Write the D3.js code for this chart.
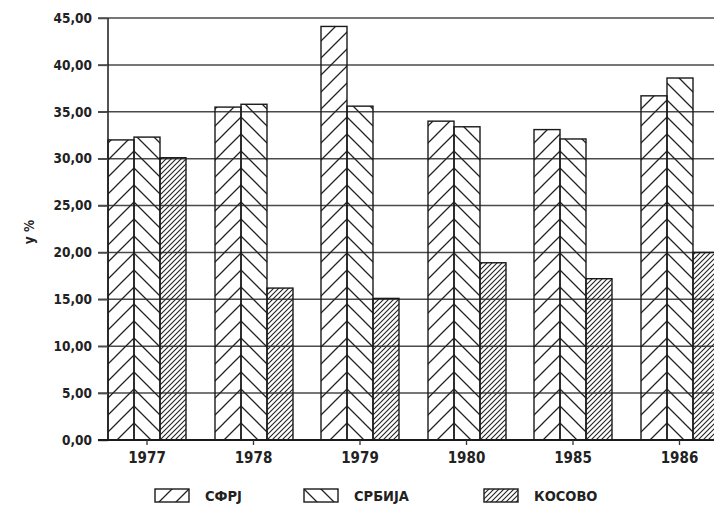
<!DOCTYPE html>
<html>
<head>
<meta charset="utf-8">
<script src="https://cdn.jsdelivr.net/npm/d3@7"></script>
<style>
  body { margin: 0; background: #fff; }
  svg { display: block; }
</style>
</head>
<body>
<div id="chart"></div>
<script>
// chart data
const years = ["1977", "1978", "1979", "1980", "1985", "1986"];
const seriesNames = ["СФРЈ", "СРБИЈА", "КОСОВО"];
const sfrj   = [32.0, 35.5, 44.1, 34.0, 33.1, 36.7];
const srbija = [32.3, 35.8, 35.6, 33.4, 32.1, 38.6];
const kosovo = [30.1, 16.2, 15.1, 18.9, 17.2, 20.0];
const yTicks = [0, 5, 10, 15, 20, 25, 30, 35, 40, 45];

const values = [sfrj, srbija, kosovo];
const kinds = ["fwd", "back", "dense"];

const W = 714, H = 517;
const plotLeft = 108, plotBase = 440, plotTop = 18;
const font = "'DejaVu Sans Condensed', 'DejaVu Sans', sans-serif";

const svg = d3.select("#chart").append("svg")
    .attr("width", W)
    .attr("height", H);
const defs = svg.append("defs");

// hatch patterns, origin given so the chevrons meet on the bar edge
function makePattern(id, kind, ox, oy) {
    const s = kind === "dense" ? 5 : 17;
    const p = defs.append("pattern")
        .attr("id", id)
        .attr("patternUnits", "userSpaceOnUse")
        .attr("x", Math.round(ox)).attr("y", oy)
        .attr("width", s).attr("height", s);
    let d;
    if (kind === "back") {
        d = `M0,0L${s},${s}M-1,${s - 1}L1,${s + 1}M${s - 1},-1L${s + 1},1`;
    } else {
        d = `M0,${s}L${s},0M-1,1L1,-1M${s - 1},${s + 1}L${s + 1},${s - 1}`;
    }
    p.append("path")
        .attr("d", d)
        .attr("stroke", "#222")
        .attr("stroke-width", kind === "dense" ? 1.1 : 1.3)
        .attr("fill", "none");
}

const x = d3.scaleBand()
    .domain(years)
    .range([plotLeft, plotLeft + 5 * 106.5 + 78])
    .paddingInner(28.5 / 106.5)
    .paddingOuter(0);

const xs = d3.scaleBand()
    .domain(seriesNames)
    .range([0, x.bandwidth()]);

const y = d3.scaleLinear()
    .domain([0, 45])
    .range([plotBase, plotTop]);

// grid lines
svg.append("g")
    .selectAll("line")
    .data(yTicks.slice(1))
    .join("line")
    .attr("x1", plotLeft - 10)
    .attr("x2", W)
    .attr("y1", d => y(d))
    .attr("y2", d => y(d))
    .attr("stroke", "#4a4a4a")
    .attr("stroke-width", 1.5);

// bars
const bars = [];
years.forEach((yr, i) => {
    seriesNames.forEach((s, j) => {
        bars.push({ yr, s, j, v: values[j][i] });
    });
});

bars.forEach((b, k) => {
    const x0 = Math.round(x(b.yr) + xs(b.s));
    // apex of chevron sits on the СФРЈ / СРБИЈА edge
    const edge = Math.round(x(b.yr) + xs.bandwidth());
    makePattern("pat" + k, kinds[b.j], b.j === 2 ? x0 : edge, plotBase);
    b.x0 = x0;
    b.pid = "pat" + k;
});

svg.append("g")
    .selectAll("rect")
    .data(bars)
    .join("rect")
    .attr("x", d => d.x0)
    .attr("y", d => y(d.v))
    .attr("width", xs.bandwidth())
    .attr("height", d => plotBase - y(d.v))
    .attr("fill", d => `url(#${d.pid})`)
    .attr("stroke", "#1a1a1a")
    .attr("stroke-width", 1.4);

// y axis
const yAxis = svg.append("g")
    .attr("transform", `translate(${plotLeft},0)`)
    .call(d3.axisLeft(y)
        .tickValues(yTicks)
        .tickSize(10)
        .tickPadding(6)
        .tickFormat(d => d3.format(".2f")(d).replace(".", ",")));
yAxis.select(".domain").attr("stroke", "#1a1a1a").attr("stroke-width", 1.5)
    .attr("d", `M0,${plotTop}V${plotBase}`);
yAxis.selectAll(".tick line").attr("stroke", "#4a4a4a").attr("stroke-width", 1.5);
yAxis.selectAll("text")
    .attr("font-family", font)
    .attr("font-weight", "bold")
    .attr("font-size", 13.5)
    .attr("fill", "#222");

// x axis
const xAxis = svg.append("g")
    .attr("transform", `translate(0,${plotBase})`)
    .call(d3.axisBottom(x).tickSize(5).tickPadding(7));
xAxis.select(".domain").attr("stroke", "#1a1a1a").attr("stroke-width", 1.8)
    .attr("d", `M${plotLeft - 10},0H${W}`);
xAxis.selectAll(".tick line").attr("stroke", "#333").attr("stroke-width", 1.3);
xAxis.selectAll("text")
    .attr("font-family", font)
    .attr("font-weight", "bold")
    .attr("font-size", 15)
    .attr("fill", "#222");

// y label
svg.append("text")
    .attr("transform", "translate(34,232) rotate(-90)")
    .attr("text-anchor", "middle")
    .attr("font-family", font)
    .attr("font-weight", "bold")
    .attr("font-size", 13.5)
    .attr("fill", "#222")
    .text("у %");

// legend
const legendX = [155, 304, 484];
const legend = svg.append("g");
seriesNames.forEach((s, j) => {
    const lx = legendX[j];
    makePattern("leg" + j, kinds[j], lx, 489);
    legend.append("rect")
        .attr("x", lx).attr("y", 489)
        .attr("width", 34).attr("height", 13)
        .attr("fill", `url(#leg${j})`)
        .attr("stroke", "#1a1a1a")
        .attr("stroke-width", 1.4);
    legend.append("text")
        .attr("x", lx + 50).attr("y", 501)
        .attr("font-family", font)
        .attr("font-weight", "bold")
        .attr("font-size", 14.5)
        .attr("fill", "#222")
        .text(s);
});
</script>
</body>
</html>
